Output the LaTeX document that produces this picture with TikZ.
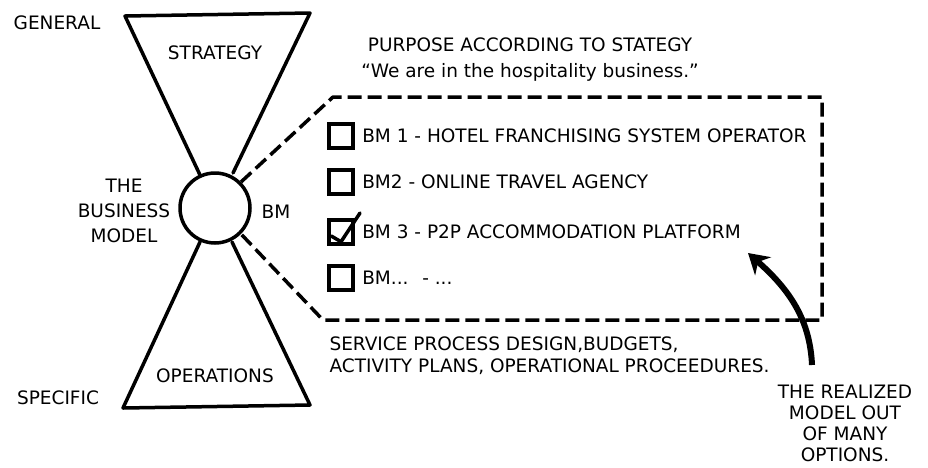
\documentclass[tikz,border=0pt]{standalone}
\usepackage{fontspec}
\setmainfont{DejaVu Sans}
\usetikzlibrary{arrows.meta}
\usetikzlibrary{positioning}

\begin{document}
\begin{tikzpicture}[x=1pt,y=-1pt,
  txt/.style={font=\fontsize{18.5}{22}\selectfont},
  hand/.style={line width=3.5pt,line join=round,line cap=round},
  dash box/.style={line width=3.5pt,dash pattern=on 14pt off 6pt,line join=round},
  tick box/.style={draw,line width=3.5pt,minimum size=24pt,inner sep=0pt}]

  \useasboundingbox[fill=white] (0,0) rectangle (928,467);

  % the hourglass
  \node[circle,draw,line width=3.5pt,minimum size=70pt,inner sep=0pt] (bm) at (215,208) {};
  \draw[hand] (200,175) -- (125,16) -- (310,13) -- (233,173);
  \draw[hand] (200,242) -- (123,408) -- (310,405) -- (232,242);

  \node[txt] (strategy) at (215,53) {STRATEGY};
  \node[txt] (operations) at (215,376) {OPERATIONS};
  \node[txt] (general) at (57,23) {GENERAL};
  \node[txt] (specific) at (58,398) {SPECIFIC};
  \node[txt,align=center,font=\fontsize{18.5}{25}\selectfont] (model) at (124,211) {THE\\BUSINESS\\MODEL};
  \node[txt] (bmlabel) at (276,212) {BM};

  % the options
  \node[txt,align=center,font=\fontsize{18.5}{26}\selectfont] (purpose) at (530,60)
    {PURPOSE ACCORDING TO STATEGY\\``We are in the hospitality business.''};

  \node[tick box] (box1) at (341,136) {};
  \node[tick box] (box2) at (341,182) {};
  \node[tick box] (box3) at (341,232) {};
  \node[tick box] (box4) at (341,278) {};
  \node[txt,right=4pt of box1] (opt1) {BM 1 - HOTEL FRANCHISING SYSTEM OPERATOR};
  \node[txt,right=4pt of box2] (opt2) {BM2 - ONLINE TRAVEL AGENCY};
  \node[txt,right=4pt of box3] (opt3) {BM 3 - P2P ACCOMMODATION PLATFORM};
  \node[txt,right=4pt of box4] (opt4) {BM... \ - ...};
  \draw[hand] ([xshift=4pt,yshift=-4pt]box3.west) -- ([yshift=4pt]box3.south) -- (360,213);

  \coordinate (tl) at (333,97);
  \coordinate (tr) at (822,97);
  \coordinate (br) at (822,320);
  \coordinate (bl) at (323,320);
  \draw[dash box] (bm.45) -- (tl) -- (tr) -- (br) -- (bl) -- (bm.-45);

  \node[txt,align=left,anchor=north west] (ops) at (326,333)
    {SERVICE PROCESS DESIGN,BUDGETS,\\ACTIVITY PLANS, OPERATIONAL PROCEEDURES.};

  % the chosen one
  \node[txt,align=center,font=\fontsize{18.5}{21}\selectfont] (realized) at (845,423)
    {THE REALIZED\\MODEL OUT\\OF MANY\\OPTIONS.};
  \coordinate (tail) at (812,365);
  \draw[line width=6pt,-{Stealth[length=20pt,width=24pt]}] (tail) .. controls (810,320) and (790,290) .. (748,253);

\end{tikzpicture}
\end{document}
